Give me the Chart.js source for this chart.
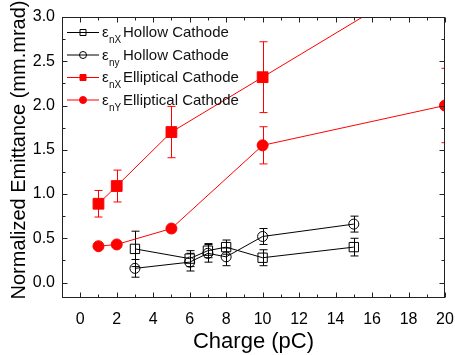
<!DOCTYPE html>
<html>
<head>
<meta charset="utf-8">
<script src="https://cdn.jsdelivr.net/npm/chart.js@4"></script>
<style>
  body { margin: 0; background: #fff; }
  canvas { display: block; }
</style>
</head>
<body>
<canvas id="chart" width="455" height="355"></canvas>
<script>
// values
const hollowCharge = [3, 6, 7, 8, 10, 15];
const hollowX = [0.38, 0.27, 0.36, 0.40, 0.28, 0.40];
const hollowXErr = [0.2, 0.09, 0.08, 0.08, 0.09, 0.1];
const hollowY = [0.16, 0.23, 0.33, 0.29, 0.52, 0.66];
const hollowYErr = [0.1, 0.1, 0.1, 0.1, 0.09, 0.09];

const ellipCharge = [1, 2, 5, 10, 20];
const ellipX = [0.89, 1.09, 1.70, 2.32, 3.56];
const ellipXErr = [0.15, 0.18, 0.29, 0.4, 0.4];
const ellipY = [0.41, 0.43, 0.61, 1.55, 2.0];
const ellipYErr = [0.02, 0.02, 0.02, 0.21, 0.42];

const xTickValues = [0, 2, 4, 6, 8, 10, 12, 14, 16, 18, 20];
const yTickValues = [0, 0.5, 1.0, 1.5, 2.0, 2.5, 3.0];

const legendLabels = [
  { sym: "\u03b5", sub: "nX", text: "Hollow Cathode" },
  { sym: "\u03b5", sub: "ny", text: "Hollow Cathode" },
  { sym: "\u03b5", sub: "nX", text: "Elliptical Cathode" },
  { sym: "\u03b5", sub: "nY", text: "Elliptical Cathode" },
];

const FONT = "'Liberation Sans', Arial, Helvetica, sans-serif";
const RED = "#ff0000";
const BLACK = "#000000";

const pts = (xs, ys) => xs.map((x, i) => ({ x: x, y: ys[i] }));

// vertical error bars, positioned through the chart scales
const errorBars = {
  id: "errorBars",
  beforeDatasetsDraw(chart) {
    const { ctx, chartArea: a, scales } = chart;
    ctx.save();
    ctx.beginPath();
    ctx.rect(a.left, a.top, a.width, a.height);
    ctx.clip();
    chart.data.datasets.forEach((ds) => {
      ctx.strokeStyle = ds.borderColor;
      ctx.lineWidth = 1;
      ds.data.forEach((p, i) => {
        const e = ds.errors[i];
        const px = Math.round(scales.x.getPixelForValue(p.x)) + 0.5;
        const top = scales.y.getPixelForValue(p.y + e);
        const bot = scales.y.getPixelForValue(p.y - e);
        ctx.beginPath();
        ctx.moveTo(px, top);
        ctx.lineTo(px, bot);
        ctx.moveTo(px - 4, top);
        ctx.lineTo(px + 4, top);
        ctx.moveTo(px - 4, bot);
        ctx.lineTo(px + 4, bot);
        ctx.stroke();
      });
    });
    ctx.restore();
  },
};

// box frame with inward ticks on all four sides, plus axis titles and legend
const frame = {
  id: "frame",
  afterDraw(chart) {
    const { ctx, chartArea: a, scales } = chart;
    const L = a.left + 0.5, R = a.right - 0.5, T = a.top + 0.5, B = a.bottom - 0.5;
    ctx.save();
    ctx.strokeStyle = "#222";
    ctx.lineWidth = 1;
    ctx.strokeRect(L, T, R - L, B - T);

    ctx.beginPath();
    xTickValues.forEach((v, i) => {
      const marks = [[v, 5]];
      if (i < xTickValues.length - 1) marks.push([(v + xTickValues[i + 1]) / 2, 3]);
      marks.forEach(([val, len]) => {
        const px = Math.round(scales.x.getPixelForValue(val)) + 0.5;
        ctx.moveTo(px, B); ctx.lineTo(px, B - len);
        ctx.moveTo(px, T); ctx.lineTo(px, T + len);
      });
    });
    const yMarks = [];
    yTickValues.forEach((v, i) => {
      yMarks.push([v, 5]);
      if (i < yTickValues.length - 1) yMarks.push([(v + yTickValues[i + 1]) / 2, 3]);
    });
    yMarks.forEach(([val, len]) => {
      const py = Math.round(scales.y.getPixelForValue(val)) + 0.5;
      ctx.moveTo(L, py); ctx.lineTo(L + len, py);
      ctx.moveTo(R, py); ctx.lineTo(R - len, py);
    });
    ctx.stroke();

    // axis titles
    ctx.fillStyle = "#000";
    ctx.textAlign = "center";
    ctx.textBaseline = "middle";
    ctx.font = "22px " + FONT;
    ctx.fillText("Charge (pC)", (a.left + a.right) / 2, 342);
    ctx.save();
    ctx.translate(19, 150);
    ctx.rotate(-Math.PI / 2);
    ctx.font = "20px " + FONT;
    ctx.fillText("Normalized Emittance (mm.mrad)", 0, 0);
    ctx.restore();

    // legend
    const rows = [32, 54.5, 77, 99.5];
    chart.data.datasets.forEach((ds, i) => {
      const y = rows[i];
      const lab = legendLabels[i];
      ctx.strokeStyle = ds.borderColor;
      ctx.beginPath();
      ctx.moveTo(67, y + 0.5);
      ctx.lineTo(99, y + 0.5);
      ctx.stroke();
      ctx.fillStyle = ds.backgroundColor;
      ctx.beginPath();
      if (ds.pointStyle === "rect") ctx.rect(80, y - 2.5, 6, 6);
      else ctx.arc(83, y + 0.5, 3.5, 0, Math.PI * 2);
      ctx.fill();
      ctx.stroke();

      ctx.fillStyle = "#111";
      ctx.textAlign = "left";
      ctx.textBaseline = "alphabetic";
      ctx.font = "15px " + FONT;
      ctx.fillText(lab.sym, 102, y + 5);
      ctx.font = "10px " + FONT;
      ctx.fillText(lab.sub, 109, y + 11);
      ctx.font = "15px " + FONT;
      ctx.fillText(lab.text, 123, y + 5);
    });
    ctx.restore();
  },
};

new Chart(document.getElementById("chart"), {
  type: "line",
  data: {
    datasets: [
      {
        data: pts(hollowCharge, hollowX),
        errors: hollowXErr,
        borderColor: BLACK,
        backgroundColor: "rgba(0,0,0,0)",
        borderWidth: 1,
        pointStyle: "rect",
        pointRadius: 6.6,
        pointBorderWidth: 1,
      },
      {
        data: pts(hollowCharge, hollowY),
        errors: hollowYErr,
        borderColor: BLACK,
        backgroundColor: "rgba(0,0,0,0)",
        borderWidth: 1,
        pointStyle: "circle",
        pointRadius: 5,
        pointBorderWidth: 1,
      },
      {
        data: pts(ellipCharge, ellipX),
        errors: ellipXErr,
        borderColor: RED,
        backgroundColor: RED,
        borderWidth: 1,
        pointStyle: "rect",
        pointRadius: 7.6,
      },
      {
        data: pts(ellipCharge, ellipY),
        errors: ellipYErr,
        borderColor: RED,
        backgroundColor: RED,
        borderWidth: 1,
        pointStyle: "circle",
        pointRadius: 5.5,
      },
    ],
  },
  options: {
    responsive: false,
    animation: false,
    devicePixelRatio: 1,
    layout: { padding: { top: 17, right: 10, left: 0, bottom: 0 } },
    plugins: { legend: { display: false }, tooltip: { enabled: false } },
    scales: {
      x: {
        type: "linear",
        min: -1,
        max: 20,
        grid: { display: false, drawTicks: false },
        border: { display: false },
        afterBuildTicks: (scale) => {
          scale.ticks = xTickValues.map((v) => ({ value: v }));
        },
        afterFit: (scale) => {
          scale.height = 57;
          scale.paddingLeft = 0;
          scale.paddingRight = 0;
        },
        ticks: {
          color: "#000",
          padding: 12,
          maxRotation: 0,
          font: { family: FONT, size: 16 },
        },
      },
      y: {
        min: -0.175,
        max: 3.0,
        grid: { display: false, drawTicks: false },
        border: { display: false },
        afterBuildTicks: (scale) => {
          scale.ticks = yTickValues.map((v) => ({ value: v }));
        },
        afterFit: (scale) => {
          scale.width = 62;
          scale.paddingTop = 0;
          scale.paddingBottom = 0;
        },
        ticks: {
          color: "#000",
          padding: 7,
          font: { family: FONT, size: 16 },
          callback: (v) => v.toFixed(1),
        },
      },
    },
  },
  plugins: [errorBars, frame],
});
</script>
</body>
</html>
